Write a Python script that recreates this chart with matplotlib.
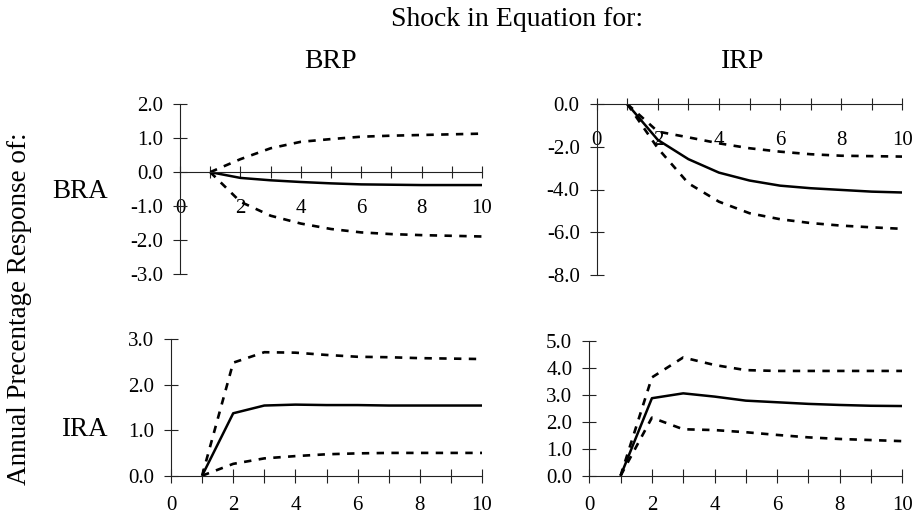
import matplotlib
matplotlib.use("Agg")
import matplotlib.pyplot as plt
import numpy as np

plt.rcParams['font.family'] = ['Liberation Serif', 'DejaVu Serif']
plt.rcParams['axes.unicode_minus'] = False

periods = [1, 2, 3, 4, 5, 6, 7, 8, 9, 10]

# BRA response to BRP shock
bra_brp = [0, -0.17, -0.24, -0.29, -0.33, -0.36, -0.37, -0.38, -0.38, -0.38]
bra_brp_hi = [0, 0.38, 0.70, 0.89, 0.97, 1.04, 1.07, 1.09, 1.11, 1.13]
bra_brp_lo = [0, -0.87, -1.28, -1.51, -1.67, -1.77, -1.82, -1.85, -1.87, -1.89]

# BRA response to IRP shock
bra_irp = [0, -1.68, -2.58, -3.21, -3.58, -3.82, -3.94, -4.02, -4.10, -4.14]
bra_irp_hi = [0, -1.29, -1.56, -1.84, -2.07, -2.23, -2.35, -2.42, -2.44, -2.46]
bra_irp_lo = [0, -2.07, -3.71, -4.57, -5.11, -5.39, -5.57, -5.69, -5.77, -5.84]

# IRA response to BRP shock
ira_brp = [0, 1.37, 1.54, 1.56, 1.55, 1.55, 1.54, 1.54, 1.54, 1.54]
ira_brp_hi = [0, 2.48, 2.71, 2.70, 2.65, 2.61, 2.60, 2.58, 2.57, 2.56]
ira_brp_lo = [0, 0.26, 0.38, 0.43, 0.47, 0.49, 0.50, 0.50, 0.50, 0.50]

# IRA response to IRP shock
ira_irp = [0, 2.87, 3.05, 2.93, 2.78, 2.72, 2.66, 2.62, 2.59, 2.58]
ira_irp_hi = [0, 3.64, 4.38, 4.10, 3.91, 3.88, 3.88, 3.88, 3.88, 3.88]
ira_irp_lo = [0, 2.15, 1.72, 1.69, 1.61, 1.51, 1.42, 1.36, 1.32, 1.28]

shock_labels = ["BRP", "IRP"]
response_labels = ["BRA", "IRA"]
xtick_vals = [0, 2, 4, 6, 8, 10]

W, H = 917, 518
fig = plt.figure(figsize=(W / 100, H / 100), dpi=100)

def frac(x0, y0, x1, y1):
    return [x0 / W, 1 - y1 / H, (x1 - x0) / W, (y1 - y0) / H]

panels = [
    (frac(180, 104, 482, 274.3), bra_brp, bra_brp_hi, bra_brp_lo, (-3, 2), np.arange(-3, 2.01, 1), True),
    (frac(596.7, 104, 902.3, 275), bra_irp, bra_irp_hi, bra_irp_lo, (-8, 0), np.arange(-8, 0.01, 2), True),
    (frac(171, 339, 482, 475.7), ira_brp, ira_brp_hi, ira_brp_lo, (0, 3), np.arange(0, 3.01, 1), False),
    (frac(589.3, 340.7, 902.3, 475.7), ira_irp, ira_irp_hi, ira_irp_lo, (0, 5), np.arange(0, 5.01, 1), False),
]

for rect, mid, hi, lo, ylim, yt, top in panels:
    ax = fig.add_axes(rect)
    ax.patch.set_alpha(0)
    ax.plot(periods, mid, color='black', lw=1.8, solid_capstyle='butt')
    ax.plot(periods, hi, color='black', lw=1.9, linestyle=(0, (2.8, 2.8)))
    ax.plot(periods, lo, color='black', lw=1.9, linestyle=(0, (2.8, 2.8)))
    ax.set_xlim(0, 10)
    ax.set_ylim(*ylim)
    for s in ['top', 'right']:
        ax.spines[s].set_visible(False)
    ax.spines['bottom'].set_position(('data', 0))
    for s in ['left', 'bottom']:
        ax.spines[s].set_linewidth(0.8)
        ax.spines[s].set_color('#222222')
    ax.set_xticks(xtick_vals)
    ax.set_xticklabels([str(v) for v in xtick_vals])
    ax.set_xticks([1, 3, 5, 7, 9], minor=True)
    ax.set_yticks(yt)
    ax.set_yticklabels([f"{v:.1f}" for v in yt])
    xlen = 9 if top else 10
    xpad = 15 if top else 9.4
    ax.tick_params(axis='x', which='both', direction='inout', length=xlen, width=0.8,
                   colors='#222222', labelcolor='black', labelsize=15, pad=xpad)
    ax.tick_params(axis='y', direction='inout', length=10.5, width=0.8,
                   colors='#222222', labelcolor='black', labelsize=15, pad=7)

fig.text(517 / W, 1 - 20 / H, "Shock in Equation for:", ha='center', va='center', fontsize=20)
fig.text(331 / W, 1 - 62 / H, shock_labels[0], ha='center', va='center', fontsize=20)
fig.text(743 / W, 1 - 62 / H, shock_labels[1], ha='center', va='center', fontsize=20)
fig.text(108 / W, 1 - 191 / H, response_labels[0], ha='right', va='center', fontsize=19.5)
fig.text(108 / W, 1 - 430 / H, response_labels[1], ha='right', va='center', fontsize=19.5)
fig.text(20 / W, 1 - 309 / H, "Annual Precentage Response of:", ha='center', va='center',
         rotation=90, fontsize=19.5)

fig.savefig("out.png", dpi=100)
